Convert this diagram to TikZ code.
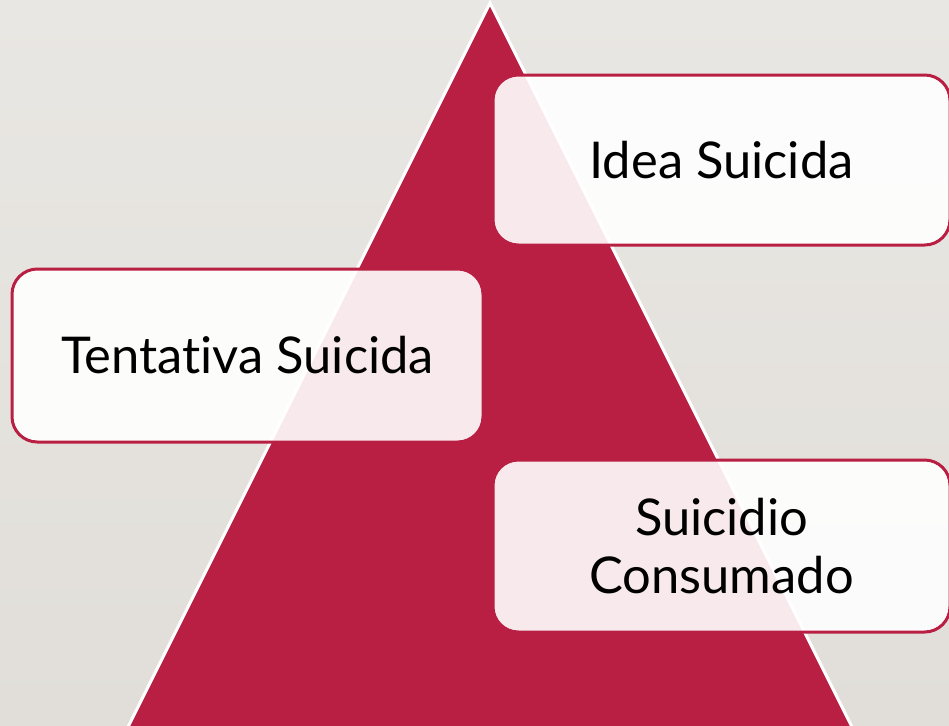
\documentclass[tikz,border=0pt]{standalone}
\usepackage{fontspec}
\setmainfont{Lato}[Ligatures=NoCommon]
\usepackage{tikz}
\definecolor{crimson}{RGB}{184,31,66}
\definecolor{paper}{RGB}{233,231,227}
\definecolor{paperdark}{RGB}{225,222,217}
\tikzset{
	levelbox/.style={draw=crimson, line width=2.25pt, fill=white, fill opacity=0.9, text opacity=1,
		rounded corners=19pt, align=center, inner sep=0pt,
		font=\fontsize{38}{44}\selectfont},
}

\begin{document}
\begin{tikzpicture}[x=0.75pt,y=0.75pt,yscale=-1,xscale=1]
		%Background
		\useasboundingbox (0,0) rectangle (949,725);
		\shade [top color=paper, bottom color=paperdark] (0,0) rectangle (949,725);
		\clip (0,0) rectangle (949,725);
		
		%Shape: Triangle
		\draw [draw=white, line width=2.25pt, fill=crimson] (490,3) -- (126,731) -- (854,731) -- cycle ;
		
		% Text Node
		\node [levelbox, minimum width=342.75pt, minimum height=127.5pt] (idea) at (721.5,160) {Idea Suicida};
		% Text Node
		\node [levelbox, minimum width=353.25pt, minimum height=129.75pt] (tentativa) at (247.5,355.5) {Tentativa Suicida};
		% Text Node
		\node [levelbox, minimum width=342.75pt, minimum height=129pt] (consumado) at (721.5,546) {Suicidio\\Consumado};
		
\end{tikzpicture}
\end{document}
